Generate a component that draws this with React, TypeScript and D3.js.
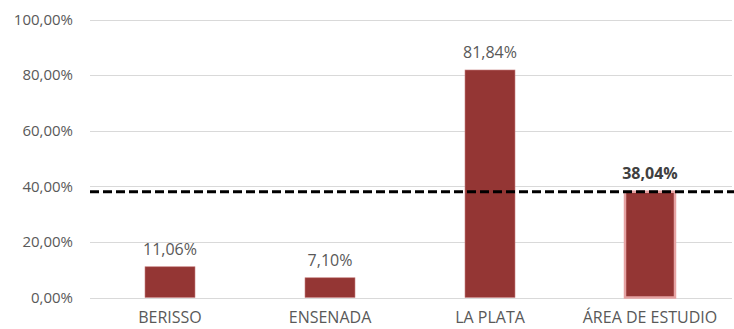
import React from "react";
import * as d3 from "d3";

const categories = ["BERISSO", "ENSENADA", "LA PLATA", "ÁREA DE ESTUDIO"];
const values = [11.06, 7.1, 81.84, 38.04];
const referenceValue = 38.04;
const yTicks = [0, 20, 40, 60, 80, 100];

const W = 734;
const H = 329;
const margin = { left: 90, right: 4, top: 20, bottom: 32 };
const FONT = "'Open Sans', 'Liberation Sans', sans-serif";

const fmt = (v: number) => v.toFixed(2).replace(".", ",") + "%";

export default function App() {
  const x = d3
    .scaleBand<string>()
    .domain(categories)
    .range([margin.left, 730])
    .paddingInner(0.6875)
    .paddingOuter(0.34375);
  const y = d3.scaleLinear().domain([0, 100]).range([297.5, 19.5]);
  const barW = 50;

  return (
    <svg
      width={W}
      height={H}
      style={{ position: "absolute", left: 0, top: 0, background: "#fff" }}
      fontFamily={FONT}
    >
      {yTicks.map((t) => (
        <g key={t}>
          <line
            x1={margin.left}
            x2={732}
            y1={Math.round(y(t)) + 0.5}
            y2={Math.round(y(t)) + 0.5}
            stroke="#d9d9d9"
            strokeWidth={1}
          />
          <text
            x={73}
            y={y(t)}
            dy="0.35em"
            textAnchor="end"
            fontSize={15}
            fill="#595959"
          >
            {fmt(t)}
          </text>
        </g>
      ))}
      {categories.map((c, i) => {
        const cx = (x(c) as number) + x.bandwidth() / 2;
        const last = i === categories.length - 1;
        return (
          <g key={c}>
            <rect
              x={cx - barW / 2}
              y={y(values[i])}
              width={barW}
              height={y(0) - y(values[i])}
              fill="#943634"
              stroke={last ? "#e6a3a3" : "#c88080"}
              strokeWidth={last ? 2.5 : 0.6}
            />
            {!last && (
              <text
                x={cx}
                y={y(values[i]) - 12}
                textAnchor="middle"
                fontSize={16}
                fill="#595959"
              >
                {fmt(values[i])}
              </text>
            )}
            <text
              x={cx}
              y={323}
              textAnchor="middle"
              fontSize={16}
              fill="#595959"
            >
              {c}
            </text>
          </g>
        );
      })}
      <line
        x1={margin.left}
        x2={734}
        y1={y(referenceValue)}
        y2={y(referenceValue)}
        stroke="#000"
        strokeWidth={3}
        strokeDasharray="9 4"
      />
      <text
        x={(x(categories[3]) as number) + x.bandwidth() / 2}
        y={y(referenceValue) - 13}
        textAnchor="middle"
        fontSize={16}
        fontWeight="bold"
        fill="#404040"
      >
        {fmt(referenceValue)}
      </text>
    </svg>
  );
}
